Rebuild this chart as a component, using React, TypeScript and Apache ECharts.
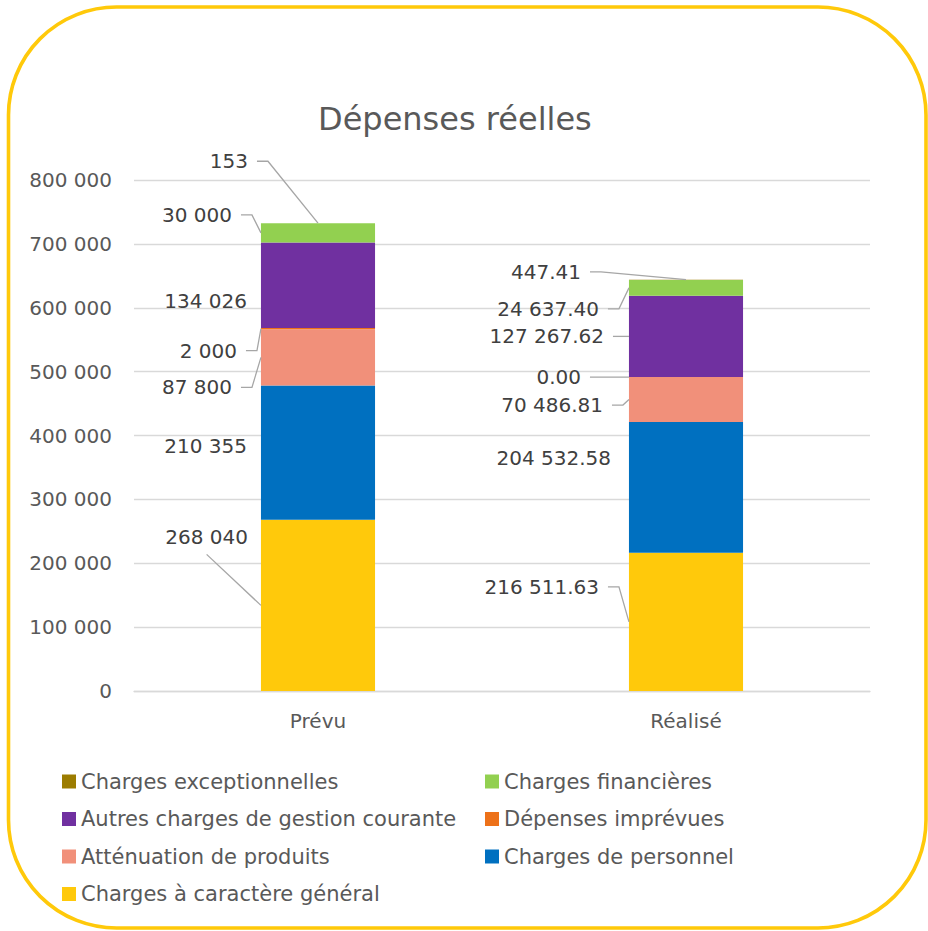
import React, { useEffect, useRef } from "react";
import * as echarts from "echarts";

// ---- data ----
const categories = ["Prévu", "Réalisé"];
const seriesNames = [
  "Charges à caractère général",
  "Charges de personnel",
  "Atténuation de produits",
  "Dépenses imprévues",
  "Autres charges de gestion courante",
  "Charges financières",
  "Charges exceptionnelles",
];
const generalValues = [268040, 216511.63];
const personnelValues = [210355, 204532.58];
const attenuationValues = [87800, 70486.81];
const imprevuesValues = [2000, 0];
const autresValues = [134026, 127267.62];
const financieresValues = [30000, 24637.4];
const exceptionnellesValues = [153, 447.41];
const labelDecimals = [0, 2];
const yMin = 0;
const yMax = 800000;
const yInterval = 100000;

const seriesValues = [
  generalValues,
  personnelValues,
  attenuationValues,
  imprevuesValues,
  autresValues,
  financieresValues,
  exceptionnellesValues,
];

// ---- styles / layout ----
const colors = ["#FFC90B", "#0070C0", "#F1907A", "#ED7119", "#7030A0", "#92D050", "#9C7C00"];
const legendLeft = ["Charges exceptionnelles", "Autres charges de gestion courante", "Atténuation de produits", "Charges à caractère général"];
const legendRight = ["Charges financières", "Dépenses imprévues", "Charges de personnel"];
// label offsets per category, per series (px)
const labelGap = [
  [13, 14, 29, 24, 14, 29, 13],
  [30, 18, 26, 48, 25, 30, 48],
];
const labelShift = [
  [-68, -7, 30, 22, 16, -18, -62],
  [-35, -29, 5.5, 0, 0, 21, -8],
];
const lineMode = [
  ["below", "none", "side", "side", "none", "side", "top"],
  ["side", "none", "side", "side", "side", "side", "top"],
];
const FONT = '"DejaVu Sans", sans-serif';
const BAR_RATIO = 0.31;

function fmt(v: number, dec: number): string {
  const s = v.toFixed(dec);
  const [ip, dp] = s.split(".");
  const grouped = ip.replace(/\B(?=(\d{3})+(?!\d))/g, " ");
  return dp !== undefined ? grouped + "." + dp : grouped;
}

let measureCtx: CanvasRenderingContext2D | null = null;
function textWidth(t: string): number {
  if (!measureCtx) measureCtx = document.createElement("canvas").getContext("2d");
  if (!measureCtx) return t.length * 11;
  measureCtx.font = "20px " + FONT;
  return measureCtx.measureText(t).width;
}

export default function App() {
  const ref = useRef<HTMLDivElement>(null);
  useEffect(() => {
    if (!ref.current) return;
    const chart = echarts.init(ref.current, undefined, { renderer: "svg" });

    const barSeries = seriesNames.map((name, i) => ({
      name,
      type: "bar",
      stack: "total",
      barWidth: BAR_RATIO * 100 + "%",
      itemStyle: { color: colors[i] },
      data: seriesValues[i],
      label: { show: false },
      emphasis: { disabled: true },
    }));

    const labelData: number[][] = [];
    categories.forEach((_, c) => seriesNames.forEach((__, s) => labelData.push([c, s])));

    const labelSeries = {
      type: "custom",
      coordinateSystem: "cartesian2d",
      silent: true,
      clip: false,
      z: 10,
      encode: { x: 0, y: 1 },
      data: labelData,
      renderItem: (params: any, api: any) => {
        const c = api.value(0);
        const s = api.value(1);
        let bottom = 0;
        for (let k = 0; k < s; k++) bottom += seriesValues[k][c];
        const v = seriesValues[s][c];
        const mid = api.coord([c, bottom + v / 2]);
        const top = api.coord([c, bottom + v]);
        const halfW = (api.size([1, 0])[0] * BAR_RATIO) / 2;
        const rectLeft = mid[0] - halfW;
        const text = fmt(v, labelDecimals[c]);
        const lx = rectLeft - labelGap[c][s];
        const ly = mid[1] + labelShift[c][s];
        const children: any[] = [
          {
            type: "text",
            x: lx,
            y: ly,
            style: {
              text,
              fill: "#404040",
              font: "20px " + FONT,
              align: "right",
              verticalAlign: "middle",
            },
          },
        ];
        const mode = lineMode[c][s];
        const lineStyle = { stroke: "#A6A6A6", lineWidth: 1.3, fill: "none" };
        if (mode === "side" || mode === "top") {
          const target = mode === "top" ? [mid[0], top[1]] : [rectLeft, mid[1]];
          children.push({
            type: "polyline",
            shape: { points: [[lx + 9, ly], [lx + 20, ly], target] },
            style: lineStyle,
          });
        } else if (mode === "below") {
          const w = textWidth(text);
          children.push({
            type: "polyline",
            shape: { points: [[lx - w / 2, ly + 17], [rectLeft, mid[1]]] },
            style: lineStyle,
          });
        }
        return { type: "group", children };
      },
    };

    const legendCommon = {
      orient: "vertical",
      top: 771,
      padding: 0,
      itemWidth: 14,
      itemHeight: 14,
      itemGap: 16.5,
      icon: "rect",
      selectedMode: false,
      textStyle: { color: "#595959", fontSize: 21, fontFamily: FONT },
    };

    chart.setOption({
      animation: false,
      backgroundColor: "#ffffff",
      title: {
        text: "Dépenses réelles",
        left: 318,
        top: 103,
        padding: 0,
        textStyle: { color: "#595959", fontSize: 32, fontWeight: "normal", fontFamily: FONT },
      },
      legend: [
        { ...legendCommon, left: 62, data: legendLeft },
        { ...legendCommon, left: 485, data: legendRight },
      ],
      grid: { left: 134, right: 58, top: 180, bottom: 240, containLabel: false },
      xAxis: {
        type: "category",
        data: categories,
        axisLine: { show: true, lineStyle: { color: "#D9D9D9", width: 1.3 } },
        axisTick: { show: false },
        axisLabel: { color: "#595959", fontSize: 20, fontFamily: FONT, margin: 20 },
      },
      yAxis: {
        type: "value",
        min: yMin,
        max: yMax,
        interval: yInterval,
        axisLine: { show: false },
        axisTick: { show: false },
        splitLine: { lineStyle: { color: "#D9D9D9", width: 1.3 } },
        axisLabel: {
          color: "#595959",
          fontSize: 20,
          fontFamily: FONT,
          margin: 22,
          formatter: (v: number) => fmt(v, 0),
        },
      },
      graphic: [
        {
          type: "rect",
          shape: { x: 8.5, y: 7, width: 917.5, height: 921, r: 108 },
          style: { fill: "none", stroke: "#FFC90A", lineWidth: 3.6 },
          silent: true,
          z: 100,
        },
      ],
      series: [...barSeries, labelSeries],
    });
    return () => chart.dispose();
  }, []);
  return (
    <div
      ref={ref}
      style={{ position: "fixed", left: 0, top: 0, width: 928, height: 931, background: "#fff" }}
    />
  );
}
